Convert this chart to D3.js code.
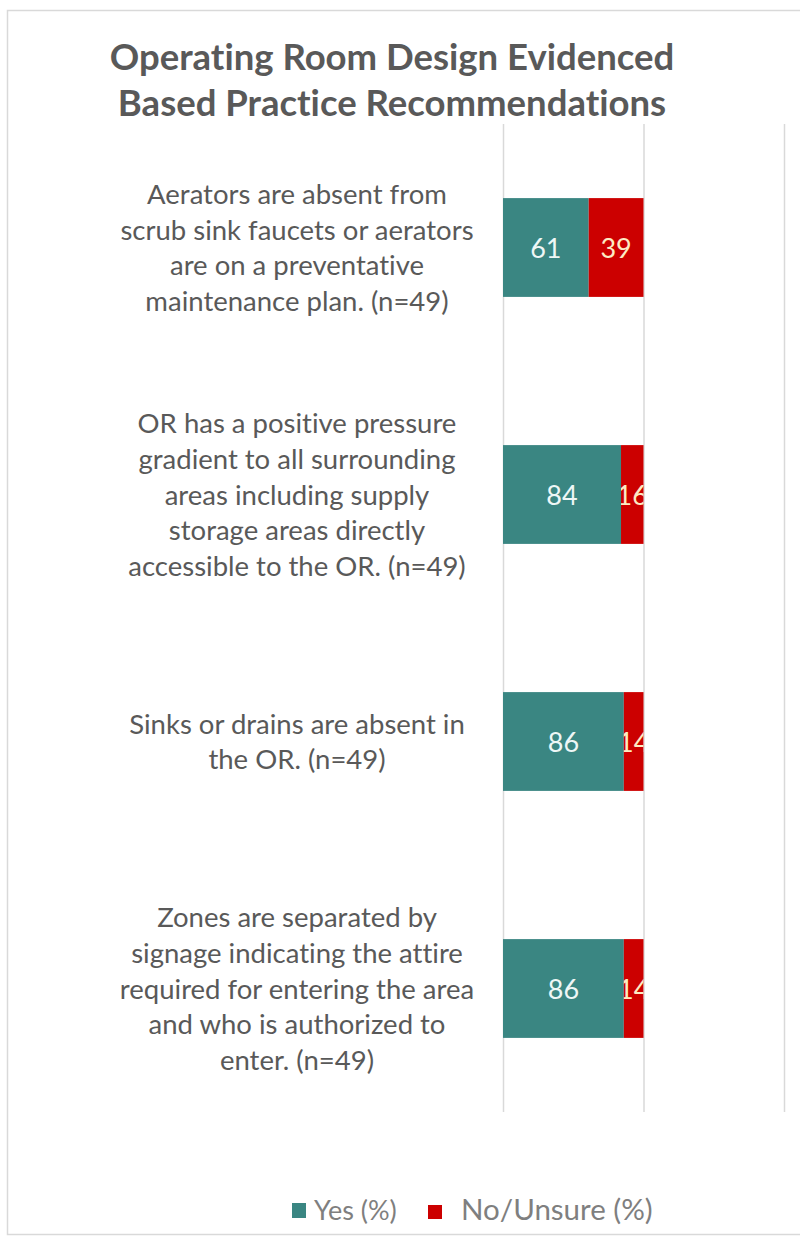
<!DOCTYPE html>
<html>
<head>
<meta charset="utf-8">
<script src="https://cdn.jsdelivr.net/npm/d3@7"></script>
<style>
  html, body { margin: 0; padding: 0; background: #ffffff; }
  svg { display: block; }
  svg text { font-variant-ligatures: none; }
</style>
</head>
<body>
<svg id="chart" width="800" height="1248"></svg>
<script>
// Survey items (line breaks mark where each label wraps)
const categories = [
  "Aerators are absent from\nscrub sink faucets or aerators\nare on a preventative\nmaintenance plan. (n=49)",
  "OR has a positive pressure\ngradient to all surrounding\nareas including supply\nstorage areas directly\naccessible to the OR. (n=49)",
  "Sinks or drains are absent in\nthe OR. (n=49)",
  "Zones are separated by\nsignage indicating the attire\nrequired for entering the area\nand who is authorized to\nenter. (n=49)"
];
const yesValues = [61, 84, 86, 86];
const noValues = [39, 16, 14, 14];
const seriesNames = ["Yes (%)", "No/Unsure (%)"];
const gridTicks = [0, 100, 200];
const titleLines = ["Operating Room Design Evidenced", "Based Practice Recommendations"];

const colors = { yes: "#3a8682", no: "#cc0000" };
const textColor = "#595959";
const fontFamily = "Lato, 'Open Sans', sans-serif";

const svg = d3.select("#chart");

// Chart frame
svg.append("rect")
  .attr("x", 7.5).attr("y", 10.5)
  .attr("width", 810).attr("height", 1224)
  .attr("fill", "#ffffff")
  .attr("stroke", "#d9d9d9").attr("stroke-width", 1.5);

// Title
svg.append("g").selectAll("text")
  .data(titleLines)
  .join("text")
  .attr("x", 392)
  .attr("y", (d, i) => 70 + i * 46)
  .attr("text-anchor", "middle")
  .attr("font-family", fontFamily)
  .attr("font-weight", "bold")
  .attr("font-size", 36.5)
  .attr("fill", textColor)
  .text(d => d);

// Scales
const plot = { left: 503, right: 784, top: 124, bottom: 1112 };
const x = d3.scaleLinear().domain([0, 200]).range([plot.left, plot.right]);
const y = d3.scaleBand()
  .domain(categories)
  .range([plot.top, plot.bottom])
  .paddingInner(0.6)
  .paddingOuter(0.3);

// Vertical gridlines
const grid = svg.append("g")
  .attr("transform", `translate(0,${plot.bottom})`)
  .call(d3.axisBottom(x).tickValues(gridTicks).tickSize(-(plot.bottom - plot.top)).tickFormat(""));
grid.select(".domain").remove();
grid.selectAll(".tick line").attr("stroke", "#d9d9d9").attr("stroke-width", 1.5);

// Stacked data
const rows = categories.map((c, i) => ({ cat: c, yes: yesValues[i], no: noValues[i] }));
const stack = d3.stack().keys(["yes", "no"])(rows);

const defs = svg.append("defs");
const segments = [];
stack.forEach(layer => {
  layer.forEach((d, i) => {
    segments.push({ key: layer.key, x0: d[0], x1: d[1], cat: d.data.cat, value: d.data[layer.key], id: `seg-${layer.key}-${i}` });
  });
});

// Clip regions so labels stay inside their segment
defs.selectAll("clipPath")
  .data(segments)
  .join("clipPath")
  .attr("id", d => d.id)
  .append("rect")
  .attr("x", d => x(d.x0))
  .attr("y", d => y(d.cat))
  .attr("width", d => x(d.x1) - x(d.x0))
  .attr("height", y.bandwidth());

svg.append("g").selectAll("rect")
  .data(segments)
  .join("rect")
  .attr("x", d => x(d.x0))
  .attr("y", d => y(d.cat))
  .attr("width", d => x(d.x1) - x(d.x0))
  .attr("height", y.bandwidth())
  .attr("fill", d => colors[d.key]);

svg.append("g").selectAll("text")
  .data(segments)
  .join("text")
  .attr("clip-path", d => `url(#${d.id})`)
  .attr("x", d => (x(d.x0) + x(d.x1)) / 2)
  .attr("y", d => y(d.cat) + y.bandwidth() / 2 + 10)
  .attr("text-anchor", "middle")
  .attr("font-family", fontFamily)
  .attr("font-size", 27)
  .attr("fill", d => d.key === "yes" ? "#eef7f6" : "#fdebc4")
  .text(d => d.value);

// Category labels
const lineH = 35.8;
const labels = svg.append("g").selectAll("text")
  .data(categories)
  .join("text")
  .attr("text-anchor", "middle")
  .attr("font-family", fontFamily)
  .attr("font-size", 27.5)
  .attr("fill", textColor);
labels.each(function(d) {
  const lines = d.split("\n");
  const cy = y(d) + y.bandwidth() / 2;
  const startY = cy - (lines.length - 1) * lineH / 2 + 10;
  d3.select(this).selectAll("tspan")
    .data(lines)
    .join("tspan")
    .attr("x", 297)
    .attr("y", (l, i) => startY + i * lineH)
    .text(l => l);
});

// Legend
const legend = svg.append("g");
legend.append("rect").attr("x", 292).attr("y", 1203).attr("width", 14).attr("height", 15).attr("fill", colors.yes);
legend.append("text").attr("x", 314).attr("y", 1220)
  .attr("font-family", fontFamily).attr("font-size", 27).attr("fill", "#7f7f7f")
  .text(seriesNames[0]);
legend.append("rect").attr("x", 428).attr("y", 1205).attr("width", 14).attr("height", 14).attr("fill", colors.no);
legend.append("text").attr("x", 461).attr("y", 1220)
  .attr("font-family", fontFamily).attr("font-size", 29.5).attr("fill", "#7f7f7f")
  .text(seriesNames[1]);
</script>
</body>
</html>
